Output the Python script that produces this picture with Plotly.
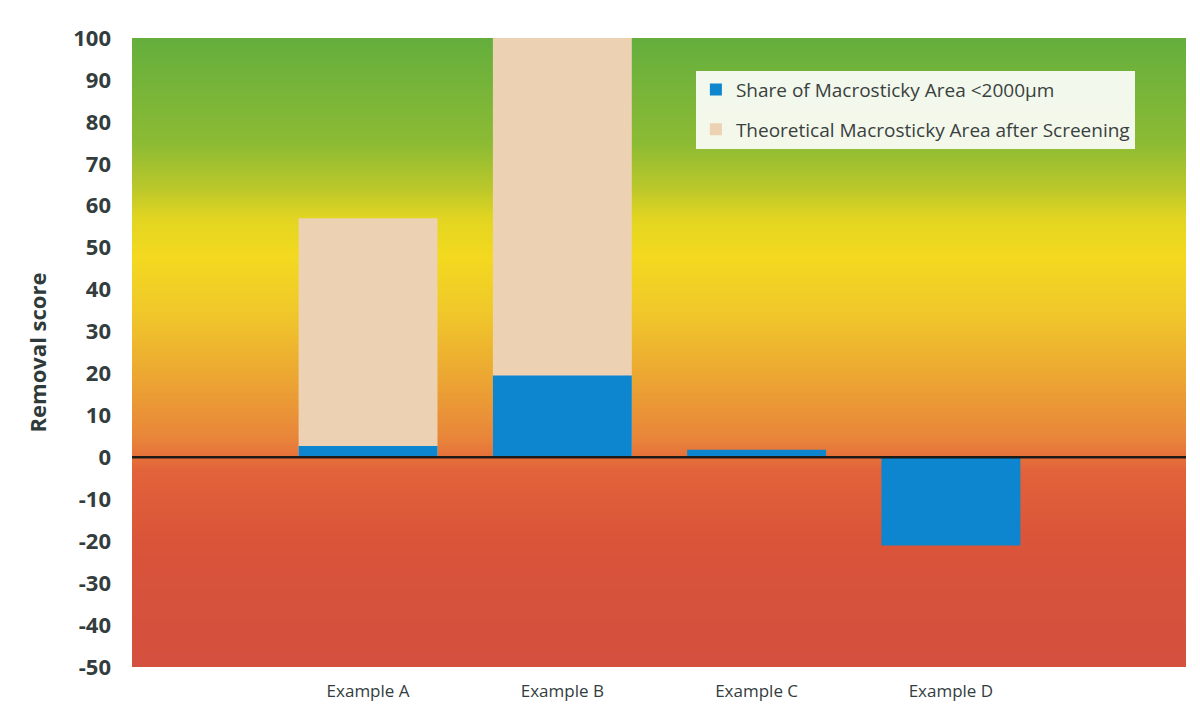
import numpy as np
import plotly.graph_objects as go

categories = ["Example A", "Example B", "Example C", "Example D"]
share_small = [2.7, 19.5, 1.8, -21.0]          # Share of Macrosticky Area <2000µm
theoretical = [57.0, 100.0, 0.0, 0.0]          # Theoretical Macrosticky Area after Screening
y_ticks = list(range(-50, 101, 10))
y_tick_text = [str(v) for v in y_ticks]

xpos = list(range(len(categories)))

# background gradient (removal score colour scale)
grad_y = np.linspace(-50, 100, 301)
grad_z = [[v, v] for v in grad_y]
cs_stops = [(-50, "#d4503f"), (-20, "#da5439"), (-3, "#e2633a"), (0, "#e6703a"),
            (5, "#e8863a"), (20, "#eca832"), (35, "#f0c82a"), (48, "#f3d91f"),
            (57, "#e2d521"), (64, "#bcc82a"), (75, "#8cbb34"), (100, "#64ae3d")]
colorscale = [[(v + 50) / 150, c] for v, c in cs_stops]

fig = go.Figure()
fig.add_trace(go.Heatmap(x=[-3, 6], y=grad_y, z=grad_z, colorscale=colorscale,
                         zmin=-50, zmax=100, zsmooth="best", showscale=False,
                         hoverinfo="skip", showlegend=False))
fig.add_trace(go.Bar(x=xpos, y=theoretical, width=0.715, marker_color="#ecd1b3",
                     marker_line_width=0, legendgroup="b", legendrank=2,
                     name="Theoretical Macrosticky Area after Screening"))
fig.add_trace(go.Bar(x=xpos, y=share_small, width=0.715, marker_color="#0d86cf",
                     marker_line_width=0, legendgroup="a", legendrank=1,
                     name="Share of Macrosticky Area <2000µm"))

fig.add_hline(y=0, line_color="#1e1a16", line_width=2.5)

fig.update_layout(
    width=1184, height=701,
    margin=dict(l=124, r=6, t=30, b=42),
    paper_bgcolor="white", plot_bgcolor="white",
    barmode="overlay",
    font=dict(family="Open Sans", color="#333d3d"),
    legend=dict(x=0.535, y=0.948, xanchor="left", yanchor="top",
                traceorder="grouped", bgcolor="rgba(250,252,246,0.94)",
                font=dict(size=19, color="#3a4040"), itemsizing="constant",
                borderwidth=0, tracegroupgap=12),
    xaxis=dict(range=[-1.215, 4.21], tickvals=xpos, ticktext=categories,
               showgrid=False, zeroline=False, showline=False,
               ticklabelstandoff=12,
               tickfont=dict(size=17, color="#333d3d"), ticks=""),
    yaxis=dict(range=[-50, 100], tickvals=y_ticks, ticktext=y_tick_text,
               showgrid=False, zeroline=False,
               showline=False, ticks="", ticklabelstandoff=20,
               tickfont=dict(size=22, color="#333d3d", weight="bold"),
               title=dict(text="Removal score", standoff=20,
                          font=dict(size=22, color="#2f3b3b", weight="bold"))),
)

fig.write_html("out.html")
